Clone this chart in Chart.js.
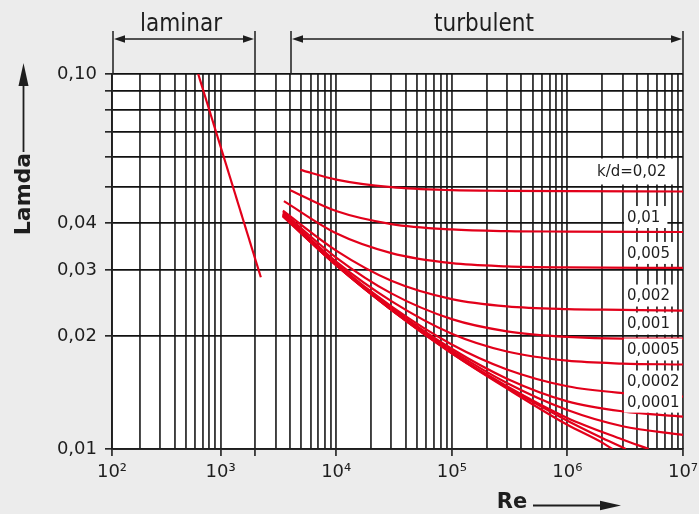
<!DOCTYPE html>
<html>
<head>
<meta charset="utf-8">
<script src="https://cdn.jsdelivr.net/npm/chart.js@4.4.1/dist/chart.umd.min.js"></script>
<style>
  html, body { margin: 0; padding: 0; background: #ececec; }
</style>
</head>
<body>
<canvas id="moody" width="699" height="514"></canvas>
<script>
// laminar line, [Re, lambda]
const laminar = [[640, 0.100], [2230, 0.0287]]

// turbulent curves, [Re, lambda]
const rough002 = [[4900, 0.0555], [1e4, 0.0523], [3e4, 0.0499], [1e5, 0.0490], [3e5, 0.0488], [1e6, 0.0487], [1e7, 0.0486]]
const rough001 = [[4000, 0.0490], [1e4, 0.0431], [3e4, 0.0398], [1e5, 0.0385], [3e5, 0.0381], [1e6, 0.0380], [1e7, 0.0379]]
const rough0005 = [[3530, 0.0458], [1e4, 0.0376], [3e4, 0.0333], [1e5, 0.0313], [3e5, 0.0307], [1e6, 0.0305], [1e7, 0.0304]]
const rough0002 = [[3460, 0.0432], [1e4, 0.0338], [3e4, 0.0281], [1e5, 0.0251], [3e5, 0.0240], [1e6, 0.0236], [3e6, 0.0235], [1e7, 0.0234]]
const rough0001 = [[3460, 0.0428], [1e4, 0.0324], [3e4, 0.0260], [1e5, 0.0222], [3e5, 0.0206], [1e6, 0.0199], [3e6, 0.0197], [1e7, 0.0197]]
const rough00005 = [[3460, 0.0425], [1e4, 0.0316], [3e4, 0.0248], [1e5, 0.0203], [3e5, 0.0182], [1e6, 0.0172], [3e6, 0.0169], [1e7, 0.0168]]
const rough00002 = [[3460, 0.0423], [1e4, 0.0312], [3e4, 0.0240], [1e5, 0.0190], [3e5, 0.0163], [1e6, 0.0147], [3e6, 0.0141], [1e7, 0.0138]]
const rough00001 = [[3460, 0.0421], [1e4, 0.0310], [3e4, 0.0238], [1e5, 0.0185], [3e5, 0.0154], [1e6, 0.0134], [3e6, 0.0126], [1e7, 0.0122]]
const rough000005 = [[3460, 0.0420], [1e4, 0.0310], [3e4, 0.0236], [1e5, 0.0183], [3e5, 0.0150], [1e6, 0.0127], [3e6, 0.0115], [1e7, 0.0109]]
const rough000002 = [[3460, 0.0419], [1e4, 0.0309], [3e4, 0.0235], [1e5, 0.0181], [3e5, 0.0147], [1e6, 0.0121], [3e6, 0.0106], [5.05e6, 0.0100]]
const rough000001 = [[3460, 0.0418], [1e4, 0.0309], [3e4, 0.0235], [1e5, 0.0180], [3e5, 0.0146], [1e6, 0.0119], [2e6, 0.0107], [3.2e6, 0.0100]]
const smooth = [[3460, 0.0417], [1e4, 0.0309], [3e4, 0.0235], [1e5, 0.0180], [3e5, 0.0145], [1e6, 0.0116], [2e6, 0.0104], [2.45e6, 0.0100]]

const curves = [rough002, rough001, rough0005, rough0002, rough0001, rough00005, rough00002, rough00001,
  rough000005, rough000002, rough000001, smooth]
const curveLabels = ['k/d=0,02', '0,01', '0,005', '0,002', '0,001', '0,0005', '0,0002', '0,0001']

// axes
const xMajor = [115, 1e3, 1e4, 1e5, 1e6, 1e7]
const xMajorLabels = ['10²', '10³', '10⁴', '10⁵', '10⁶', '10⁷']
const yTicks = [0.01, 0.02, 0.03, 0.04, 0.05, 0.06, 0.07, 0.08, 0.09, 0.10]
const yTickLabels = ['0,01', '0,02', '0,03', '0,04', '', '', '', '', '', '0,10']

// ranges on top: [from Re, to Re, text]
const ranges = [[115, 2000, 'laminar'], [4000, 1e7, 'turbulent']]

const red = '#e2001a'
const ink = '#1e1e1e'
const tickFont = "'DejaVu Sans', 'Noto Sans', sans-serif"
const narrowFont = "'DejaVu Sans Condensed', Roboto, sans-serif"

// every 1..9 x 10^n gridline inside the range
const xGrid = [xMajor[0]]
for (let d = 100; d < 1e7; d *= 10) {
  for (let m = 1; m < 10; m++) {
    const v = m * d
    if (v > xMajor[0]) xGrid.push(v)
  }
}
xGrid.push(1e7)

const toXY = arr => arr.map(p => ({ x: p[0], y: p[1] }))

const datasets = [laminar].concat(curves).map(c => ({
  data: toXY(c),
  borderColor: red,
  borderWidth: 2.2,
  pointRadius: 0,
  fill: false,
  cubicInterpolationMode: 'monotone'
}))

function arrowHead(ctx, x, y, dx, dy, len, half) {
  // tip at (x, y), pointing along (dx, dy)
  const bx = x - dx * len, by = y - dy * len
  ctx.beginPath()
  ctx.moveTo(x, y)
  ctx.lineTo(bx - dy * half, by + dx * half)
  ctx.lineTo(bx + dy * half, by - dx * half)
  ctx.closePath()
  ctx.fill()
}

const decorations = {
  id: 'decorations',
  beforeDraw(chart) {
    const { ctx, chartArea: a } = chart
    ctx.save()
    ctx.fillStyle = '#ececec'
    ctx.fillRect(0, 0, chart.width, chart.height)
    ctx.fillStyle = '#fff'
    ctx.fillRect(a.left, a.top, a.right - a.left, a.bottom - a.top)
    ctx.restore()
  },
  afterDatasetsDraw(chart) {
    const { ctx, chartArea: a, scales } = chart
    const xs = scales.x, ys = scales.y
    ctx.save()

    // labels of the rough curves
    ctx.font = '15px ' + tickFont
    ctx.textBaseline = 'middle'
    ctx.textAlign = 'left'
    curveLabels.forEach((t, i) => {
      const c = curves[i]
      const yEnd = ys.getPixelForValue(c[c.length - 1][1])
      const first = i === 0
      const left = first ? a.right - 86 : a.right - 56
      const cy = yEnd - (first ? 20 : 15)
      const h = first ? 26 : 22
      const w = ctx.measureText(t).width
      ctx.fillStyle = '#fff'
      ctx.fillRect(left - 3, cy - h / 2, Math.min(w + 10, a.right - left + 2), h)
      ctx.fillStyle = ink
      ctx.fillText(t, left, cy + 1)
    })

    // laminar / turbulent brackets
    ctx.strokeStyle = ink
    ctx.fillStyle = ink
    ctx.lineWidth = 1.5
    const yLine = 39, yTop = 31
    ranges.forEach(r => {
      const x1 = Math.round(xs.getPixelForValue(r[0])) + 1
      const x2 = Math.round(xs.getPixelForValue(r[1]))
      ctx.beginPath()
      ctx.moveTo(x1, yTop); ctx.lineTo(x1, a.top)
      ctx.moveTo(x2, yTop); ctx.lineTo(x2, a.top)
      ctx.moveTo(x1 + 8, yLine); ctx.lineTo(x2 - 8, yLine)
      ctx.stroke()
      arrowHead(ctx, x1 + 1, yLine, -1, 0, 11, 3.8)
      arrowHead(ctx, x2 - 1, yLine, 1, 0, 11, 3.8)
      ctx.font = '24px ' + narrowFont
      ctx.textAlign = 'center'
      ctx.textBaseline = 'alphabetic'
      ctx.fillText(r[2], (x1 + x2) / 2 - 3, 31)
    })

    // axis titles with arrows
    ctx.font = 'bold 22px ' + tickFont
    ctx.textBaseline = 'middle'
    ctx.save()
    ctx.translate(24, 194)
    ctx.rotate(-Math.PI / 2)
    ctx.textAlign = 'center'
    ctx.fillText('Lamda', 0, 0)
    ctx.restore()
    ctx.lineWidth = 1.8
    ctx.beginPath()
    ctx.moveTo(23.5, 152); ctx.lineTo(23.5, 84)
    ctx.stroke()
    arrowHead(ctx, 23.5, 63, 0, -1, 23, 5)

    ctx.font = 'bold 21px ' + tickFont
    ctx.textAlign = 'center'
    ctx.fillText('Re', 512, 503)
    ctx.beginPath()
    ctx.moveTo(533, 505.5); ctx.lineTo(602, 505.5)
    ctx.stroke()
    arrowHead(ctx, 621, 505.5, 1, 0, 21, 4.8)

    ctx.restore()
  }
}

new Chart(document.getElementById('moody'), {
  type: 'line',
  data: { datasets },
  plugins: [decorations],
  options: {
    responsive: false,
    animation: false,
    layout: { padding: { top: 74, right: 16, left: 0, bottom: 0 } },
    plugins: {
      legend: { display: false },
      tooltip: { enabled: false }
    },
    scales: {
      x: {
        type: 'logarithmic',
        min: xMajor[0],
        max: 1e7,
        afterBuildTicks: s => { s.ticks = xGrid.map(v => ({ value: v })) },
        afterFit: s => { s.height = 65; s.paddingLeft = 0; s.paddingRight = 0 },
        border: { display: true, color: ink, width: 1.8 },
        grid: {
          color: '#3c3c3c',
          lineWidth: 1.9,
          tickLength: 7,
          tickWidth: 1.6,
          tickColor: c => (xMajor.includes(c.tick.value) || c.tick.value === 2000) ? ink : 'rgba(0,0,0,0)'
        },
        ticks: {
          autoSkip: false,
          maxRotation: 0,
          padding: 6,
          color: ink,
          font: { family: tickFont, size: 18 },
          callback: v => {
            const i = xMajor.indexOf(v)
            return i >= 0 ? xMajorLabels[i] : ''
          }
        }
      },
      y: {
        type: 'logarithmic',
        min: 0.01,
        max: 0.10,
        afterBuildTicks: s => { s.ticks = yTicks.map(v => ({ value: v })) },
        afterFit: s => { s.width = 112 },
        border: { display: true, color: ink, width: 1.8 },
        grid: {
          color: '#111',
          lineWidth: 1.7,
          tickLength: 7,
          tickWidth: 1.6,
          tickColor: ink
        },
        ticks: {
          autoSkip: false,
          padding: 8,
          color: ink,
          font: { family: tickFont, size: 18 },
          callback: (v, i) => yTickLabels[i]
        }
      }
    }
  }
})
</script>
</body>
</html>
